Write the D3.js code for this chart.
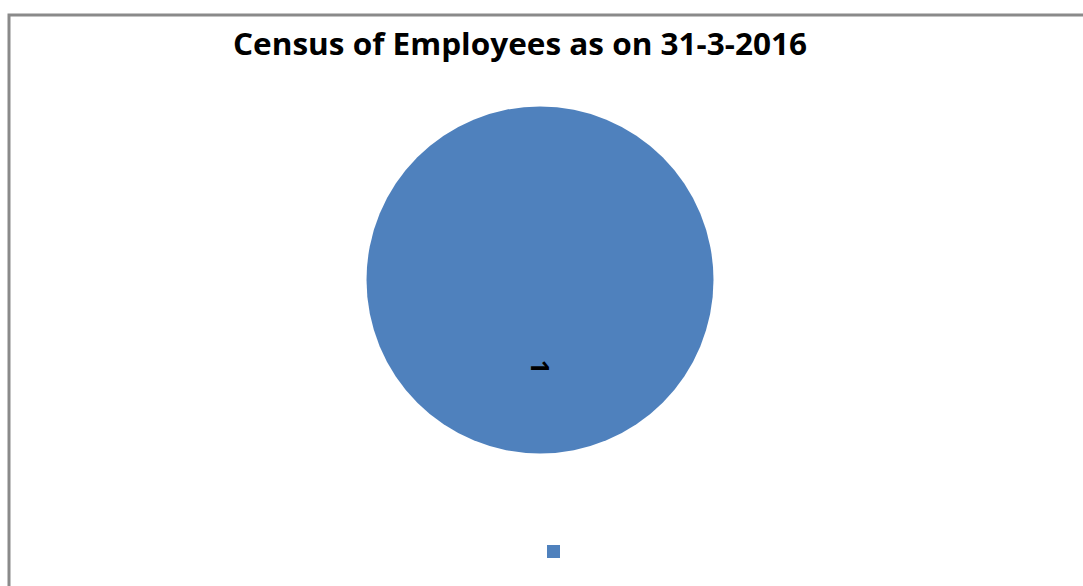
<!DOCTYPE html>
<html>
<head>
<meta charset="utf-8">
<script src="https://cdn.jsdelivr.net/npm/d3@7"></script>
<style>
  body { margin: 0; background: #fff; }
</style>
</head>
<body>
<div id="chart"></div>
<script>
// data
const categories = [""];
const values = [1];
const labels = ["1"];
const colors = ["#4f81bd"];

const w = 1083, h = 586;
const svg = d3.select("#chart").append("svg")
    .attr("width", w)
    .attr("height", h);

// chart frame (only top and left edge visible)
svg.append("path")
    .attr("d", `M9,${h} L9,15 L${w},15`)
    .attr("fill", "none")
    .attr("stroke", "#8a8a8a")
    .attr("stroke-width", 3);

// title
svg.append("text")
    .attr("x", 520)
    .attr("y", 55)
    .attr("text-anchor", "middle")
    .attr("font-family", "Open Sans, sans-serif")
    .attr("font-weight", "bold")
    .attr("font-size", 31)
    .attr("textLength", 574)
    .attr("lengthAdjust", "spacingAndGlyphs")
    .text("Census of Employees as on 31-3-2016");

// pie
const cx = 540, cy = 280, r = 173.5;
const pie = d3.pie().sort(null)(values);
const arc = d3.arc().innerRadius(0).outerRadius(r);
const g = svg.append("g").attr("transform", `translate(${cx},${cy})`);

g.selectAll("path")
    .data(pie)
    .enter()
    .append("path")
    .attr("d", arc)
    .attr("fill", (d, i) => colors[i]);

// data label, rotated
g.selectAll("text.lbl")
    .data(pie)
    .enter()
    .append("text")
    .attr("class", "lbl")
    .attr("transform", "translate(0,87) rotate(90)")
    .attr("text-anchor", "middle")
    .attr("dy", "0.35em")
    .attr("font-family", "Open Sans, sans-serif")
    .attr("font-weight", "bold")
    .attr("font-size", 25)
    .attr("fill", "#000")
    .text((d, i) => labels[i]);

// legend
const legend = svg.append("g").attr("transform", "translate(547,545)");
legend.selectAll("rect")
    .data(categories)
    .enter()
    .append("rect")
    .attr("width", 13)
    .attr("height", 13)
    .attr("fill", (d, i) => colors[i]);
legend.selectAll("text")
    .data(categories)
    .enter()
    .append("text")
    .attr("x", 18)
    .attr("y", 11)
    .attr("font-family", "Open Sans, sans-serif")
    .attr("font-size", 14)
    .text(d => d);
</script>
</body>
</html>
